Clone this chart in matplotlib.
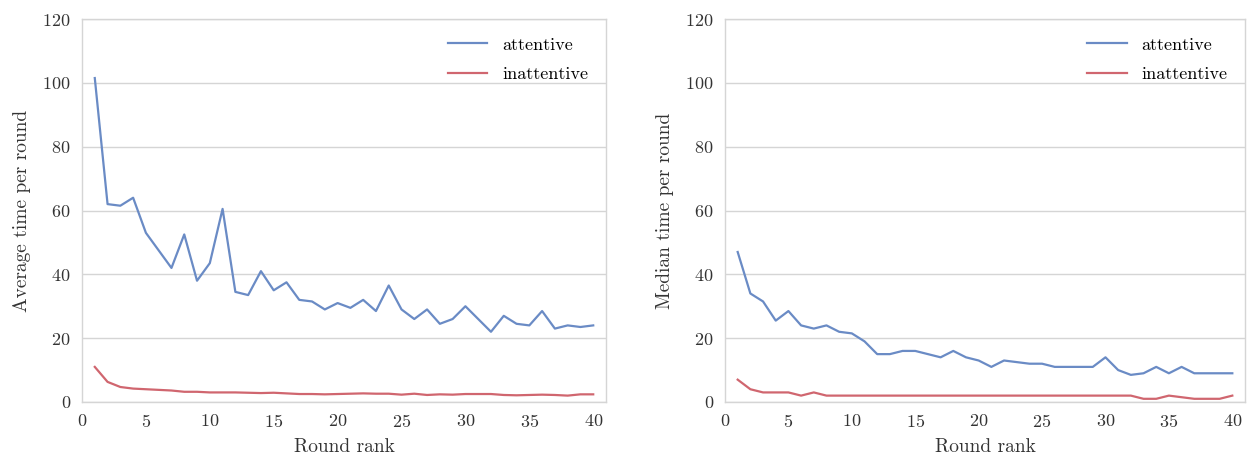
import matplotlib
matplotlib.use('Agg')
import matplotlib.pyplot as plt
import numpy as np

rounds = np.arange(1, 41)

avg_attentive = [101.5, 62, 61.5, 64, 53, 47.5, 42, 52.5, 38, 43.5,
                 60.5, 34.5, 33.5, 41, 35, 37.5, 32, 31.5, 29, 31,
                 29.5, 32, 28.5, 36.5, 29, 26, 29, 24.5, 26, 30,
                 26, 22, 27, 24.5, 24, 28.5, 23, 24, 23.5, 24]
avg_inattentive = [11, 6.3, 4.7, 4.2, 4.0, 3.8, 3.6, 3.2, 3.2, 3.0,
                   3.0, 3.0, 2.9, 2.8, 2.9, 2.7, 2.5, 2.5, 2.4, 2.5,
                   2.6, 2.7, 2.6, 2.6, 2.3, 2.6, 2.2, 2.4, 2.3, 2.5,
                   2.5, 2.5, 2.2, 2.1, 2.2, 2.3, 2.2, 2.0, 2.4, 2.4]

med_attentive = [47, 34, 31.5, 25.5, 28.5, 24, 23, 24, 22, 21.5,
                 19, 15, 15, 16, 16, 15, 14, 16, 14, 13,
                 11, 13, 12.5, 12, 12, 11, 11, 11, 11, 14,
                 10, 8.5, 9, 11, 9, 11, 9, 9, 9, 9]
med_inattentive = [7, 4, 3, 3, 3, 2, 3, 2, 2, 2,
                   2, 2, 2, 2, 2, 2, 2, 2, 2, 2,
                   2, 2, 2, 2, 2, 2, 2, 2, 2, 2,
                   2, 2, 1, 1, 2, 1.5, 1, 1, 1, 2]

blue = '#6a8bc5'
red = '#d0666f'
grid_c = '#d5d5d5'

plt.rcParams['font.family'] = ['cmr10', 'DejaVu Serif']
plt.rcParams['axes.formatter.use_mathtext'] = True
plt.rcParams['font.size'] = 13

fig = plt.figure(figsize=(12.48, 4.59), dpi=100)
ax1 = fig.add_axes([82/1248, 1-402/459, (606-82)/1248, (402-19)/459])
ax2 = fig.add_axes([725/1248, 1-402/459, (1245-725)/1248, (402-19)/459])

panels = [(ax1, avg_attentive, avg_inattentive, 'Average time per round'),
          (ax2, med_attentive, med_inattentive, 'Median time per round')]

for ax, att, inatt, ylab in panels:
    ax.plot(rounds, att, color=blue, lw=1.6, label='attentive')
    ax.plot(rounds, inatt, color=red, lw=1.6, label='inattentive')
    ax.set_xlim(0, 41)
    ax.set_ylim(0, 120)
    ax.set_xticks(range(0, 41, 5))
    ax.set_yticks(range(0, 121, 20))
    ax.yaxis.grid(True, color=grid_c, lw=1.0)
    ax.set_axisbelow(True)
    for s in ax.spines.values():
        s.set_color(grid_c)
        s.set_linewidth(1.0)
    ax.tick_params(length=0, pad=8, labelcolor='#333333', labelsize=13)
    ax.set_xlabel('Round rank', fontsize=14, color='#333333', labelpad=6)
    ax.set_ylabel(ylab, fontsize=14, color='#333333', labelpad=8)
    ax.legend(loc='upper right', frameon=False, fontsize=13,
              handlelength=2.2, borderaxespad=0.6, labelspacing=0.75)

fig.savefig('out.png', dpi=100)
